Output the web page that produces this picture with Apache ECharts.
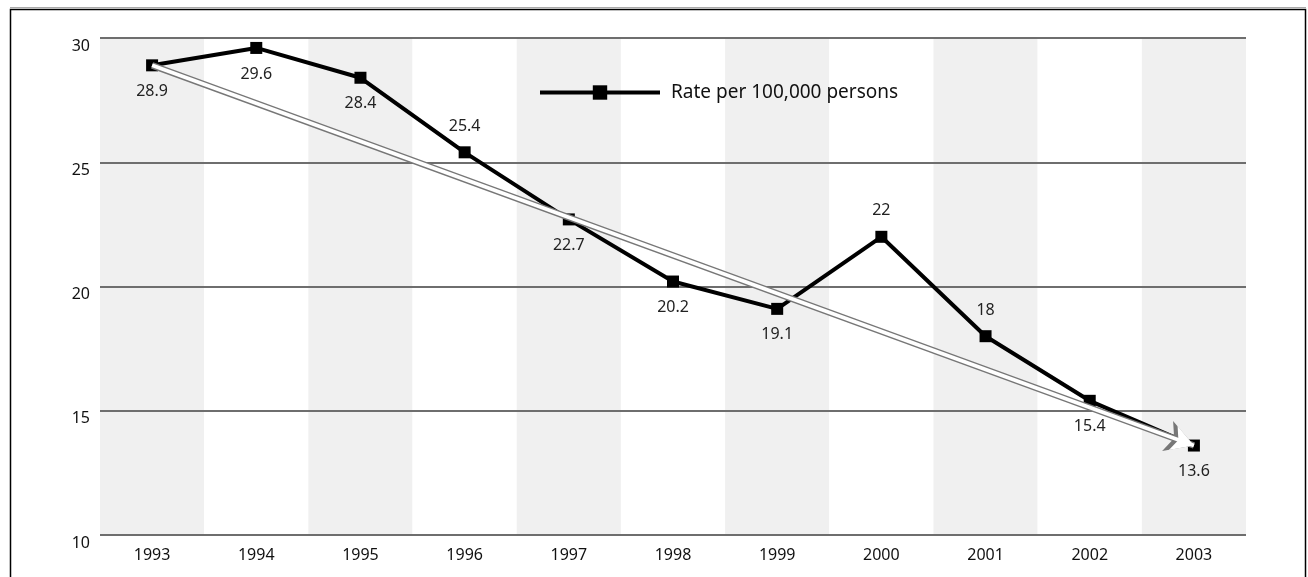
<!DOCTYPE html>
<html><head><meta charset="utf-8">
<script src="https://cdn.jsdelivr.net/npm/echarts@6/dist/echarts.min.js"></script>
<style>html,body{margin:0;padding:0;background:#fff}#c{width:1308px;height:577px}</style>
</head><body><div id="c"></div>
<script>
const years = ['1993','1994','1995','1996','1997','1998','1999','2000','2001','2002','2003'];
const rates = [28.9, 29.6, 28.4, 25.4, 22.7, 20.2, 19.1, 22, 18, 15.4, 13.6];
const labelPos = ['bottom','bottom','bottom','top','bottom','bottom','bottom','top','top','bottom','bottom'];
const trendStart = ['1993', 28.9];
const trendEnd = ['2003', 13.6];
const seriesName = 'Rate per 100,000 persons';

const FONT = '"Noto Sans", "DejaVu Sans", sans-serif';
const chart = echarts.init(document.getElementById('c'), null, {renderer:'canvas'});
chart.setOption({
  animation:false,
  backgroundColor:'#fff',
  textStyle:{fontFamily:FONT},
  graphic:[
    {type:'line', shape:{x1:10,y1:7.5,x2:1306,y2:7.5}, style:{stroke:'#aaa',lineWidth:1}, z:-1},
    {type:'rect', shape:{x:10.5,y:9.5,width:1295,height:600}, style:{fill:null,stroke:'#000',lineWidth:1.5}, z:-1}
  ],
  grid:{left:100,right:62,top:38,bottom:42},
  legend:{
    left:533, top:78, itemWidth:120, itemHeight:18, itemGap:10,
    lineStyle:{width:4, color:'#000'},
    textStyle:{fontSize:19,color:'#111',fontFamily:FONT,padding:[0,0,0,6]},
    data:[{name:seriesName}]
  },
  xAxis:{
    type:'category', data:years, boundaryGap:true, z:0,
    axisLine:{show:false}, axisTick:{show:false},
    axisLabel:{fontSize:16,color:'#111',margin:12,fontFamily:FONT},
    splitLine:{show:false},
    splitArea:{show:true, areaStyle:{color:['#f0f0f0','#ffffff']}}
  },
  yAxis:{
    type:'value', min:10, max:30, interval:5, z:1,
    axisLine:{show:false}, axisTick:{show:false},
    axisLabel:{fontSize:16,color:'#111',margin:10,verticalAlign:'top',fontFamily:FONT},
    splitLine:{lineStyle:{color:'#6e6e6e',width:2}}
  },
  series:[
    {
      name:seriesName, type:'line', data:rates.map((v,i)=>({value:v,label:{position:labelPos[i]}})),
      symbol:'rect', symbolSize:12, showAllSymbol:true,
      lineStyle:{color:'#000',width:4}, itemStyle:{color:'#000'},
      label:{show:true, fontSize:16, color:'#222', distance:12, fontFamily:FONT},
      z:3
    },
    {
      name:'trend-outline', type:'line', data:[], z:5, silent:true,
      markLine:{
        silent:true, symbol:['none','arrow'], symbolSize:[24,28], precision:1,
        label:{show:false},
        lineStyle:{color:'#777777', width:6.5, type:'solid'},
        data:[[{coord:trendStart},{coord:trendEnd}]]
      }
    },
    {
      name:'trend-fill', type:'line', data:[], z:6, silent:true,
      markLine:{
        silent:true, symbol:['none','arrow'], symbolSize:[19,22], precision:1,
        label:{show:false},
        lineStyle:{color:'#ffffff', width:3.8, type:'solid', opacity:1},
        data:[[{coord:trendStart},{coord:trendEnd}]]
      }
    }
  ]
});
</script></body></html>
